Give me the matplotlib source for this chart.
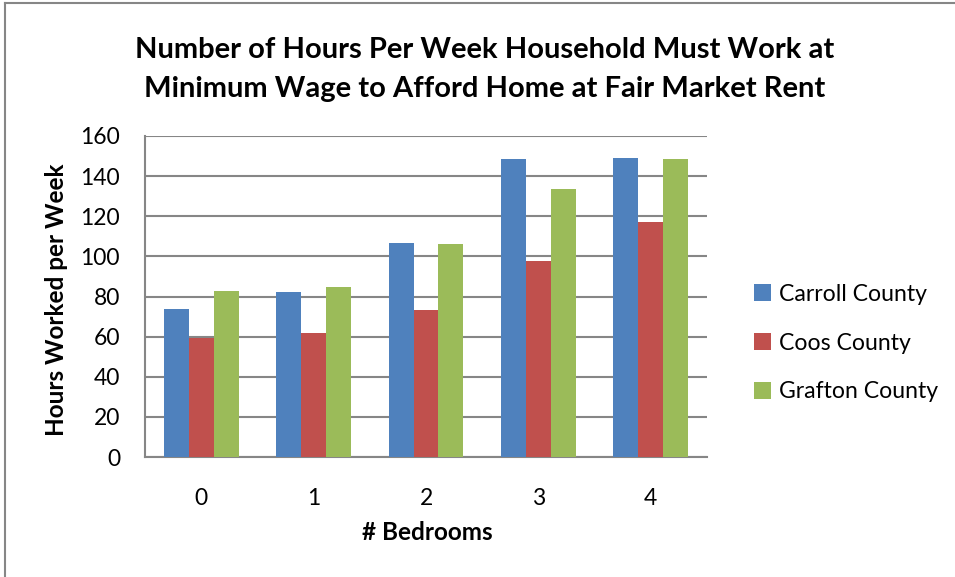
import numpy as np
import matplotlib.pyplot as plt
from matplotlib.lines import Line2D

# hours per week at minimum wage needed for fair market rent
bedrooms = ['0', '1', '2', '3', '4']
counties = ['Carroll County', 'Coos County', 'Grafton County']
carroll = [74.0, 82.3, 106.6, 148.7, 149.2]
coos = [59.4, 61.7, 73.2, 97.8, 117.3]
grafton = [82.7, 84.5, 106.4, 133.6, 148.5]
colors = ['#4F81BD', '#C0504D', '#9BBB59']

plt.rcParams['font.family'] = ['Lato', 'DejaVu Sans']

fig = plt.figure(figsize=(9.55, 5.77), dpi=100)
ax = fig.add_axes([145/955, 120/577, 562/955, 321/577])

x = np.arange(len(bedrooms))
w = 0.222
for i, (vals, name) in enumerate(zip([carroll, coos, grafton], counties)):
    ax.bar(x + (i - 1) * w, vals, w, color=colors[i], label=name, zorder=3)

ax.set_xlim(-0.5, 4.5)
ax.set_ylim(0, 160)
ax.set_yticks(range(0, 161, 20))
ax.set_xticks(x)
ax.set_xticklabels(bedrooms)
ax.yaxis.grid(True, color='#868686', linewidth=1.5, zorder=0)
ax.tick_params(axis='both', length=0, labelsize=16.5)
ax.tick_params(axis='y', pad=18)
ax.tick_params(axis='x', pad=22)
for s in ['top', 'right']:
    ax.spines[s].set_visible(False)
for s in ['left', 'bottom']:
    ax.spines[s].set_color('#868686')
    ax.spines[s].set_linewidth(1.5)

fig.text(57/955, 1 - 300/577, 'Hours Worked per Week', rotation=90,
         ha='center', va='center', fontsize=17.5, fontweight='bold')
fig.text(427/955, 1 - 532/577, '# Bedrooms', ha='center', va='center',
         fontsize=17.5, fontweight='bold')
fig.text(485/955, 1 - 50/577, 'Number of Hours Per Week Household Must Work at',
         ha='center', va='center', fontsize=21, fontweight='bold')
fig.text(485/955, 1 - 89/577, 'Minimum Wage to Afford Home at Fair Market Rent',
         ha='center', va='center', fontsize=21, fontweight='bold')

ax.legend(loc='center left', bbox_to_anchor=(733/955, 1 - 343/577),
          bbox_transform=fig.transFigure, frameon=False, fontsize=16.6,
          handlelength=0.75, handleheight=0.75, handletextpad=0.35,
          labelspacing=1.2)

# chart frame
fig.add_artist(Line2D([5/955, 5/955], [0, 1 - 3/577], color='#868686',
                      linewidth=1.5, transform=fig.transFigure))
fig.add_artist(Line2D([5/955, 1], [1 - 3/577, 1 - 3/577], color='#868686',
                      linewidth=1.5, transform=fig.transFigure))

fig.savefig('out.png', dpi=100)
